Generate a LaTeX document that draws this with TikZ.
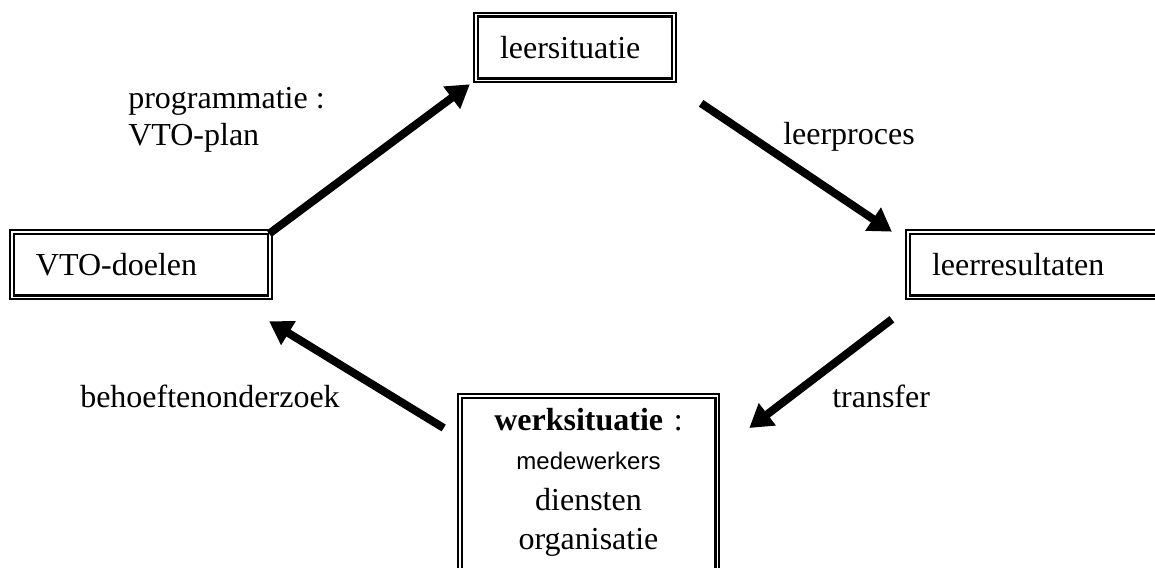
\documentclass[tikz,border=0pt]{standalone}
\usepackage{fontspec}
\setmainfont{Liberation Serif}
\setsansfont{Liberation Sans}
\usepackage{tikz}
\usetikzlibrary{arrows.meta}

\begin{document}
\begin{tikzpicture}[x=0.75pt, y=-0.75pt,
    box/.style={draw, line width=1.7pt, double, double distance=1pt,
                align=left, inner xsep=18pt, minimum height=49pt,
                font=\fontsize{24}{29.5}\selectfont},
    flow/.style={line width=6pt, -{Triangle[length=17pt, width=20pt]}},
    lbl/.style={inner sep=0pt, align=left, font=\fontsize{24}{26}\selectfont}]
    \useasboundingbox (0, 0) rectangle (1155, 567);

    \node[box, text width=112.5pt] (lsit) at (575, 47.5) {leersituatie};
    \node[box, text width=157.5pt] (vto) at (141, 264.5) {VTO-doelen};
    \node[box, text width=165pt] (lres) at (1042, 264.5) {leerresultaten};
    \node[box, text width=157pt, align=center, anchor=north, inner ysep=9pt] (werk)
        at (588.5, 395) {\textbf{werksituatie} :\\
        {\sffamily\fontsize{18}{20}\selectfont medewerkers}\\[1pt]
        diensten\\ organisatie\\ \mbox{}};

    \draw[flow] ([shift={(-2,3)}]vto.north east) -- ([shift={(-5,3)}]lsit.south west);
    \draw[flow] ([shift={(26,22)}]lsit.south east) -- ([shift={(-15,1)}]lres.north west);
    \draw[flow] ([shift={(-15,21)}]lres.south west) -- ([shift={(31,33)}]werk.north east);
    \draw[flow] ([shift={(-15,33)}]werk.north west) -- ([shift={(-2,23)}]vto.south east);

    \node[lbl, anchor=west] (plan) at (128, 120) {programmatie :\\[2pt]VTO-plan};
    \node[lbl, anchor=west] (proces) at (783, 137) {leerproces};
    \node[lbl, anchor=west] (trans) at (832, 396) {transfer};
    \node[lbl, anchor=west] (behoefte) at (80, 396) {behoeftenonderzoek};
\end{tikzpicture}
\end{document}
